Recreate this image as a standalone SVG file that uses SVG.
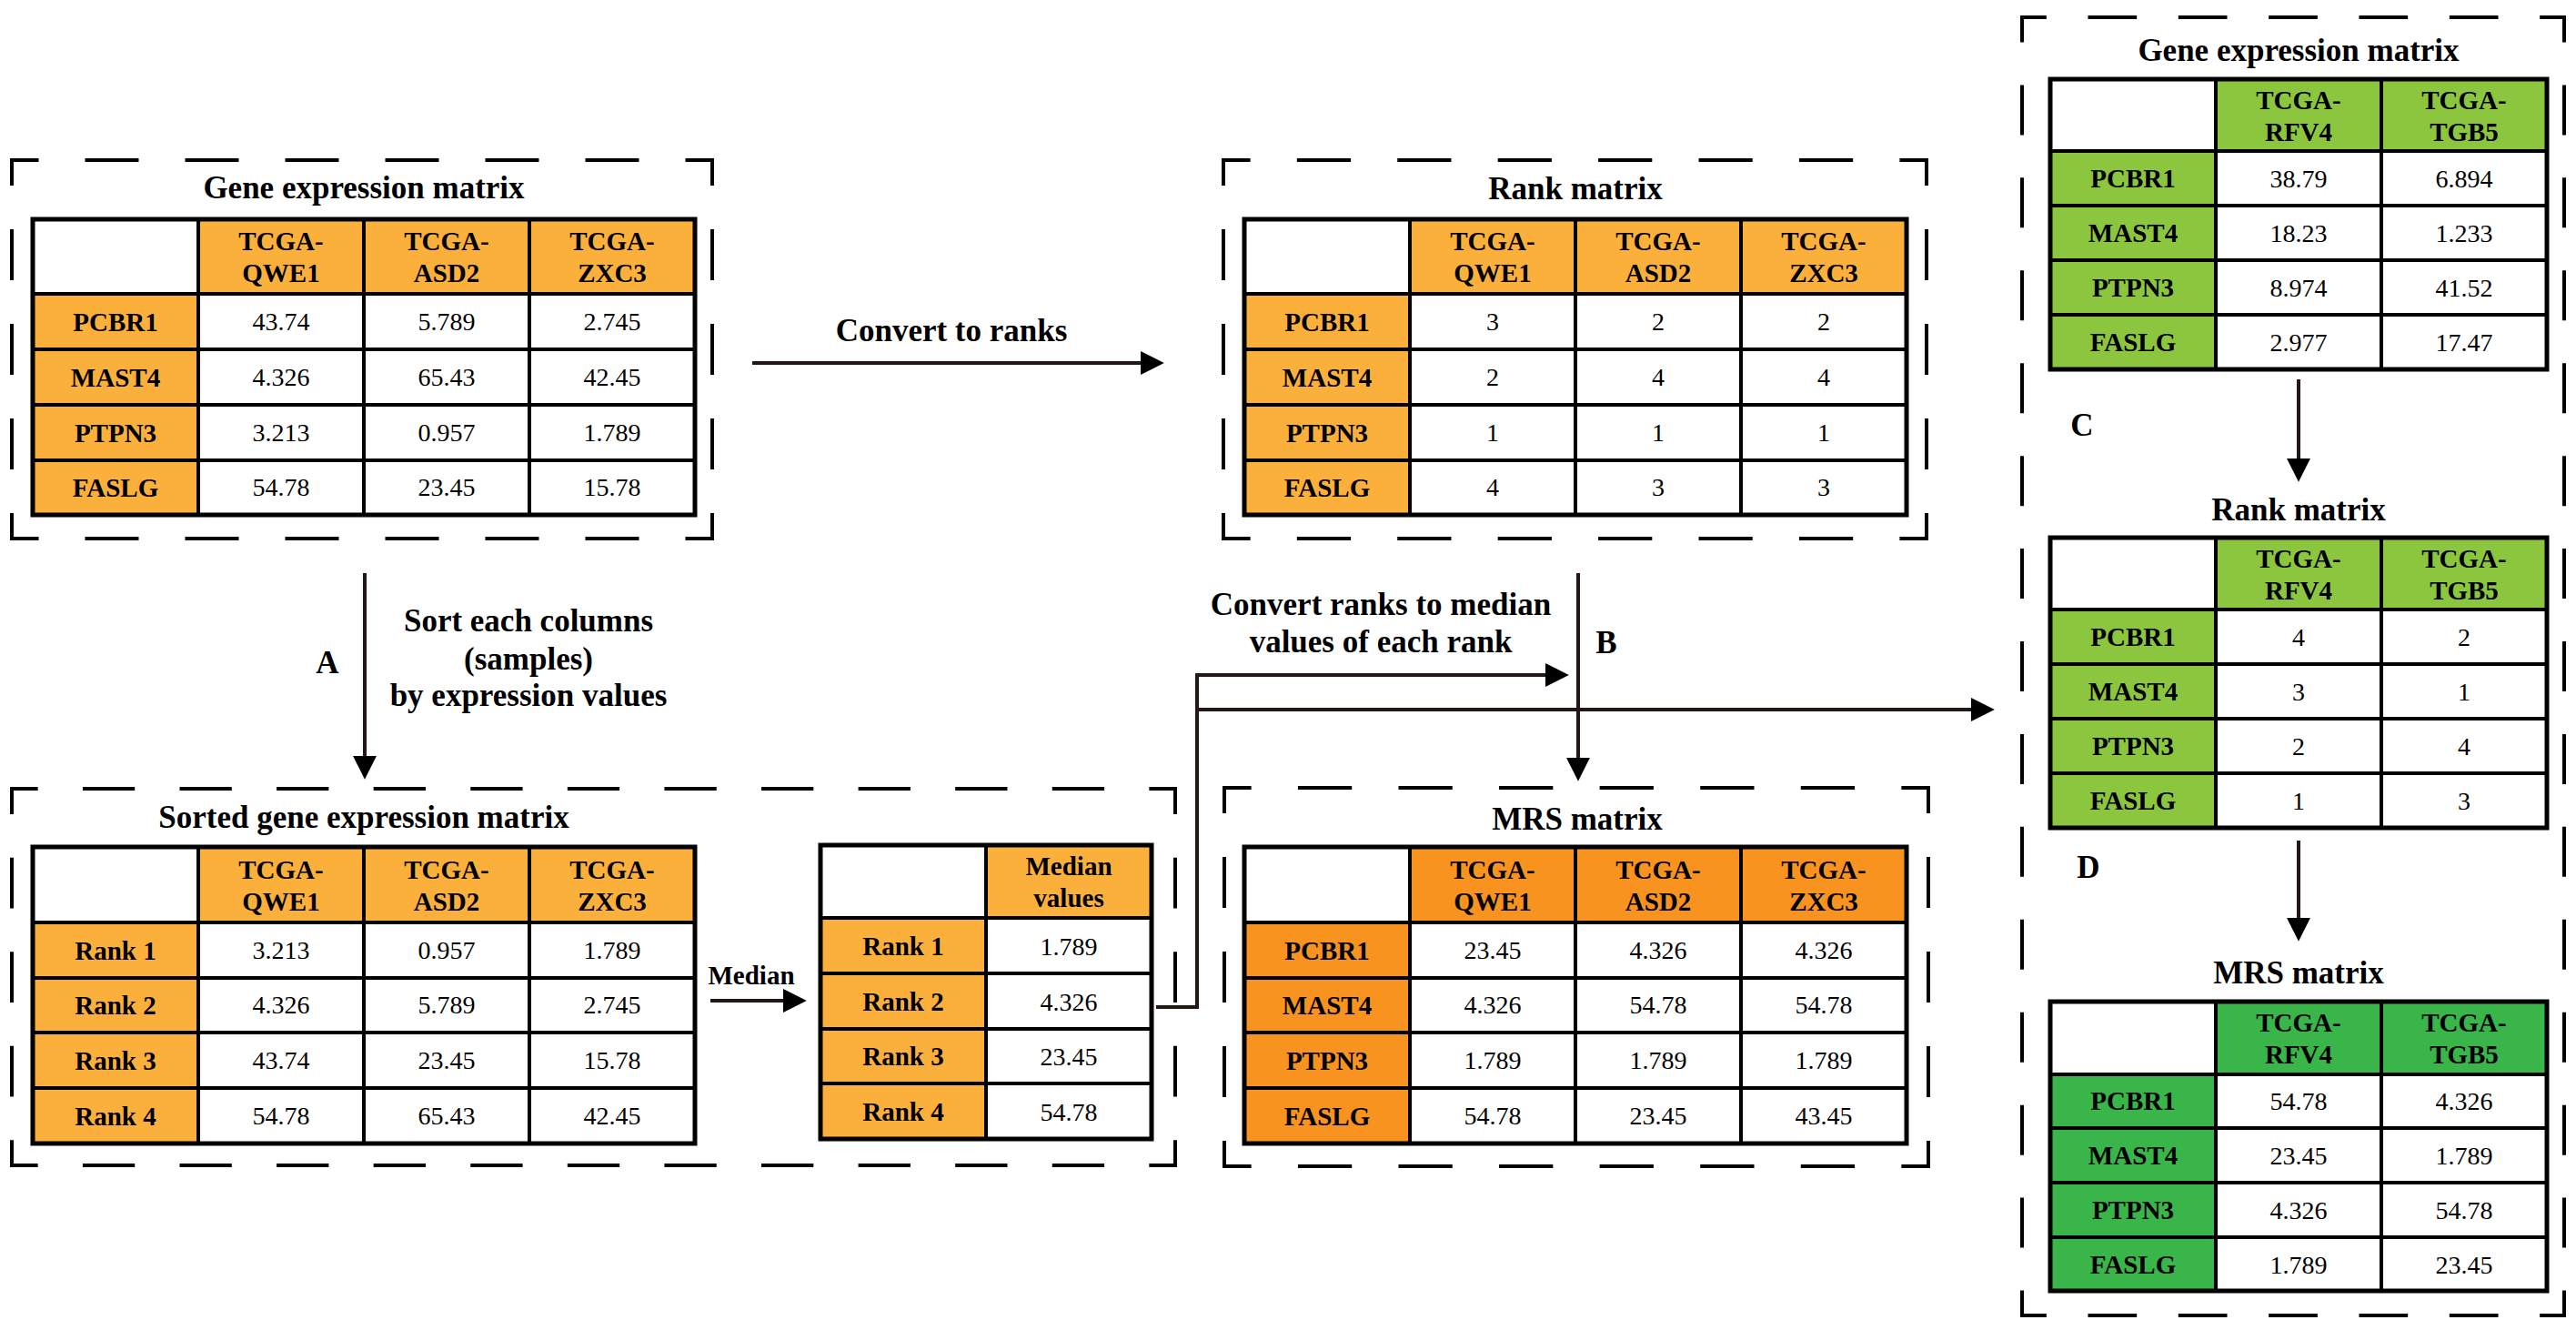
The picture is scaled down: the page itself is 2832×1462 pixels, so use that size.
<svg xmlns="http://www.w3.org/2000/svg" width="2832" height="1462" viewBox="0 0 2832 1462">
<defs>
<style>
text{font-family:"Liberation Serif","Times New Roman",serif;fill:#000;text-anchor:middle}
.t{font-size:35px;font-weight:bold}
.h{font-size:29px;font-weight:bold}
.n{font-size:28px}
.lb{font-size:35px;font-weight:bold}
.dash{fill:none;stroke:#000;stroke-width:4;stroke-dasharray:50 50;stroke-dashoffset:25;stroke-linecap:square}
.grid{fill:none;stroke:#000;stroke-width:4}
.outer{fill:none;stroke:#000;stroke-width:5}
.o1{fill:#FBB03B}
.o2{fill:#F7931E}
.g1{fill:#8CC63F}
.g2{fill:#39B54A}
.conn{fill:none;stroke:#231815;stroke-width:4}
</style>
<marker id="ah" markerUnits="userSpaceOnUse" markerWidth="26" markerHeight="26" viewBox="0 0 24 24" refX="14" refY="12" orient="auto"><path d="M0,0 L24,12 L0,24 z" fill="#000"/></marker>
</defs>
<rect width="2832" height="1462" fill="#fff"/>

<g id="gene-matrix">
<path class="dash" d="M13 176 H783" pathLength="700"/>
<path class="dash" d="M13 592 H783" pathLength="700"/>
<path class="dash" d="M13 176 V592" pathLength="400"/>
<path class="dash" d="M783 176 V592" pathLength="400"/>
<text class="t" x="400" y="218">Gene expression matrix</text>
<rect class="o1" x="218" y="241" width="546" height="82"/>
<rect class="o1" x="36" y="323" width="182" height="243"/>
<path class="grid" d="M218 241V566M400 241V566M582 241V566M36 323H764M36 384H764M36 445H764M36 506H764"/>
<rect class="outer" x="36" y="241" width="728" height="325"/>
<text class="h" x="309" y="275">TCGA-</text><text class="h" x="309" y="310">QWE1</text>
<text class="h" x="491" y="275">TCGA-</text><text class="h" x="491" y="310">ASD2</text>
<text class="h" x="673" y="275">TCGA-</text><text class="h" x="673" y="310">ZXC3</text>
<text class="h" x="127" y="364">PCBR1</text><text class="n" x="309" y="363">43.74</text><text class="n" x="491" y="363">5.789</text><text class="n" x="673" y="363">2.745</text>
<text class="h" x="127" y="425">MAST4</text><text class="n" x="309" y="424">4.326</text><text class="n" x="491" y="424">65.43</text><text class="n" x="673" y="424">42.45</text>
<text class="h" x="127" y="486">PTPN3</text><text class="n" x="309" y="485">3.213</text><text class="n" x="491" y="485">0.957</text><text class="n" x="673" y="485">1.789</text>
<text class="h" x="127" y="546">FASLG</text><text class="n" x="309" y="545">54.78</text><text class="n" x="491" y="545">23.45</text><text class="n" x="673" y="545">15.78</text>
</g>

<g id="rank-matrix">
<path class="dash" d="M1345 176 H2118" pathLength="700"/>
<path class="dash" d="M1345 592 H2118" pathLength="700"/>
<path class="dash" d="M1345 176 V592" pathLength="400"/>
<path class="dash" d="M2118 176 V592" pathLength="400"/>
<text class="t" x="1732" y="219">Rank matrix</text>
<rect class="o1" x="1550" y="241" width="546" height="82"/>
<rect class="o1" x="1368" y="323" width="182" height="243"/>
<path class="grid" d="M1550 241V566M1732 241V566M1914 241V566M1368 323H2096M1368 384H2096M1368 445H2096M1368 506H2096"/>
<rect class="outer" x="1368" y="241" width="728" height="325"/>
<text class="h" x="1641" y="275">TCGA-</text><text class="h" x="1641" y="310">QWE1</text>
<text class="h" x="1823" y="275">TCGA-</text><text class="h" x="1823" y="310">ASD2</text>
<text class="h" x="2005" y="275">TCGA-</text><text class="h" x="2005" y="310">ZXC3</text>
<text class="h" x="1459" y="364">PCBR1</text><text class="n" x="1641" y="363">3</text><text class="n" x="1823" y="363">2</text><text class="n" x="2005" y="363">2</text>
<text class="h" x="1459" y="425">MAST4</text><text class="n" x="1641" y="424">2</text><text class="n" x="1823" y="424">4</text><text class="n" x="2005" y="424">4</text>
<text class="h" x="1459" y="486">PTPN3</text><text class="n" x="1641" y="485">1</text><text class="n" x="1823" y="485">1</text><text class="n" x="2005" y="485">1</text>
<text class="h" x="1459" y="546">FASLG</text><text class="n" x="1641" y="545">4</text><text class="n" x="1823" y="545">3</text><text class="n" x="2005" y="545">3</text>
</g>

<g id="sorted-matrix">
<path class="dash" d="M13 867 H1292" pathLength="1200"/>
<path class="dash" d="M13 1281 H1292" pathLength="1200"/>
<path class="dash" d="M13 867 V1281" pathLength="400"/>
<path class="dash" d="M1292 867 V1281" pathLength="400"/>
<text class="t" x="400" y="910">Sorted gene expression matrix</text>
<rect class="o1" x="218" y="931" width="546" height="83"/>
<rect class="o1" x="36" y="1014" width="182" height="243"/>
<path class="grid" d="M218 931V1257M400 931V1257M582 931V1257M36 1014H764M36 1075H764M36 1135H764M36 1196H764"/>
<rect class="outer" x="36" y="931" width="728" height="326"/>
<text class="h" x="309" y="966">TCGA-</text><text class="h" x="309" y="1001">QWE1</text>
<text class="h" x="491" y="966">TCGA-</text><text class="h" x="491" y="1001">ASD2</text>
<text class="h" x="673" y="966">TCGA-</text><text class="h" x="673" y="1001">ZXC3</text>
<text class="h" x="127" y="1055">Rank 1</text><text class="n" x="309" y="1054">3.213</text><text class="n" x="491" y="1054">0.957</text><text class="n" x="673" y="1054">1.789</text>
<text class="h" x="127" y="1115">Rank 2</text><text class="n" x="309" y="1114">4.326</text><text class="n" x="491" y="1114">5.789</text><text class="n" x="673" y="1114">2.745</text>
<text class="h" x="127" y="1176">Rank 3</text><text class="n" x="309" y="1175">43.74</text><text class="n" x="491" y="1175">23.45</text><text class="n" x="673" y="1175">15.78</text>
<text class="h" x="127" y="1237">Rank 4</text><text class="n" x="309" y="1236">54.78</text><text class="n" x="491" y="1236">65.43</text><text class="n" x="673" y="1236">42.45</text>
</g>

<g id="median-table">
<rect class="o1" x="1084" y="929" width="182" height="80"/>
<rect class="o1" x="902" y="1009" width="182" height="243"/>
<path class="grid" d="M1084 929V1252M902 1009H1266M902 1070H1266M902 1131H1266M902 1191H1266"/>
<rect class="outer" x="902" y="929" width="364" height="323"/>
<text class="h" x="1175" y="962">Median</text><text class="h" x="1175" y="997">values</text>
<text class="h" x="993" y="1050">Rank 1</text><text class="n" x="1175" y="1050">1.789</text>
<text class="h" x="993" y="1111">Rank 2</text><text class="n" x="1175" y="1111">4.326</text>
<text class="h" x="993" y="1171">Rank 3</text><text class="n" x="1175" y="1171">23.45</text>
<text class="h" x="993" y="1232">Rank 4</text><text class="n" x="1175" y="1232">54.78</text>
</g>

<g id="mrs-matrix">
<path class="dash" d="M1346 866 H2120" pathLength="700"/>
<path class="dash" d="M1346 1282 H2120" pathLength="700"/>
<path class="dash" d="M1346 866 V1282" pathLength="400"/>
<path class="dash" d="M2120 866 V1282" pathLength="400"/>
<text class="t" x="1734" y="912">MRS matrix</text>
<rect class="o2" x="1550" y="931" width="546" height="83"/>
<rect class="o2" x="1368" y="1014" width="182" height="243"/>
<path class="grid" d="M1550 931V1257M1732 931V1257M1914 931V1257M1368 1014H2096M1368 1075H2096M1368 1135H2096M1368 1196H2096"/>
<rect class="outer" x="1368" y="931" width="728" height="326"/>
<text class="h" x="1641" y="966">TCGA-</text><text class="h" x="1641" y="1001">QWE1</text>
<text class="h" x="1823" y="966">TCGA-</text><text class="h" x="1823" y="1001">ASD2</text>
<text class="h" x="2005" y="966">TCGA-</text><text class="h" x="2005" y="1001">ZXC3</text>
<text class="h" x="1459" y="1055">PCBR1</text><text class="n" x="1641" y="1054">23.45</text><text class="n" x="1823" y="1054">4.326</text><text class="n" x="2005" y="1054">4.326</text>
<text class="h" x="1459" y="1115">MAST4</text><text class="n" x="1641" y="1114">4.326</text><text class="n" x="1823" y="1114">54.78</text><text class="n" x="2005" y="1114">54.78</text>
<text class="h" x="1459" y="1176">PTPN3</text><text class="n" x="1641" y="1175">1.789</text><text class="n" x="1823" y="1175">1.789</text><text class="n" x="2005" y="1175">1.789</text>
<text class="h" x="1459" y="1237">FASLG</text><text class="n" x="1641" y="1236">54.78</text><text class="n" x="1823" y="1236">23.45</text><text class="n" x="2005" y="1236">43.45</text>
</g>

<g id="right-panel">
<path class="dash" d="M2223 19 H2819" pathLength="600"/>
<path class="dash" d="M2223 1446 H2819" pathLength="600"/>
<path class="dash" d="M2223 19 V1446" pathLength="1400"/>
<path class="dash" d="M2819 19 V1446" pathLength="1400"/>
</g>

<g id="gene-matrix-2">
<text class="t" x="2527" y="67">Gene expression matrix</text>
<rect class="g1" x="2436" y="87" width="364" height="79"/>
<rect class="g1" x="2254" y="166" width="182" height="240"/>
<path class="grid" d="M2436 87V406M2618 87V406M2254 166H2800M2254 226H2800M2254 286H2800M2254 346H2800"/>
<rect class="outer" x="2254" y="87" width="546" height="319"/>
<text class="h" x="2527" y="120">TCGA-</text><text class="h" x="2527" y="155">RFV4</text>
<text class="h" x="2709" y="120">TCGA-</text><text class="h" x="2709" y="155">TGB5</text>
<text class="h" x="2345" y="206">PCBR1</text><text class="n" x="2527" y="206">38.79</text><text class="n" x="2709" y="206">6.894</text>
<text class="h" x="2345" y="266">MAST4</text><text class="n" x="2527" y="266">18.23</text><text class="n" x="2709" y="266">1.233</text>
<text class="h" x="2345" y="326">PTPN3</text><text class="n" x="2527" y="326">8.974</text><text class="n" x="2709" y="326">41.52</text>
<text class="h" x="2345" y="386">FASLG</text><text class="n" x="2527" y="386">2.977</text><text class="n" x="2709" y="386">17.47</text>
</g>

<g id="rank-matrix-2">
<text class="t" x="2527" y="572">Rank matrix</text>
<rect class="g1" x="2436" y="591" width="364" height="79"/>
<rect class="g1" x="2254" y="670" width="182" height="240"/>
<path class="grid" d="M2436 591V910M2618 591V910M2254 670H2800M2254 730H2800M2254 790H2800M2254 850H2800"/>
<rect class="outer" x="2254" y="591" width="546" height="319"/>
<text class="h" x="2527" y="624">TCGA-</text><text class="h" x="2527" y="659">RFV4</text>
<text class="h" x="2709" y="624">TCGA-</text><text class="h" x="2709" y="659">TGB5</text>
<text class="h" x="2345" y="710">PCBR1</text><text class="n" x="2527" y="710">4</text><text class="n" x="2709" y="710">2</text>
<text class="h" x="2345" y="770">MAST4</text><text class="n" x="2527" y="770">3</text><text class="n" x="2709" y="770">1</text>
<text class="h" x="2345" y="830">PTPN3</text><text class="n" x="2527" y="830">2</text><text class="n" x="2709" y="830">4</text>
<text class="h" x="2345" y="890">FASLG</text><text class="n" x="2527" y="890">1</text><text class="n" x="2709" y="890">3</text>
</g>

<g id="mrs-matrix-2">
<text class="t" x="2527" y="1081">MRS matrix</text>
<rect class="g2" x="2436" y="1101" width="364" height="80"/>
<rect class="g2" x="2254" y="1181" width="182" height="238"/>
<path class="grid" d="M2436 1101V1419M2618 1101V1419M2254 1181H2800M2254 1240H2800M2254 1300H2800M2254 1360H2800"/>
<rect class="outer" x="2254" y="1101" width="546" height="318"/>
<text class="h" x="2527" y="1134">TCGA-</text><text class="h" x="2527" y="1169">RFV4</text>
<text class="h" x="2709" y="1134">TCGA-</text><text class="h" x="2709" y="1169">TGB5</text>
<text class="h" x="2345" y="1220">PCBR1</text><text class="n" x="2527" y="1220">54.78</text><text class="n" x="2709" y="1220">4.326</text>
<text class="h" x="2345" y="1280">MAST4</text><text class="n" x="2527" y="1280">23.45</text><text class="n" x="2709" y="1280">1.789</text>
<text class="h" x="2345" y="1340">PTPN3</text><text class="n" x="2527" y="1340">4.326</text><text class="n" x="2709" y="1340">54.78</text>
<text class="h" x="2345" y="1400">FASLG</text><text class="n" x="2527" y="1400">1.789</text><text class="n" x="2709" y="1400">23.45</text>
</g>

<g id="connectors">
<path class="conn" d="M827 399 H1269" marker-end="url(#ah)"/>
<path class="conn" d="M401 630 V846" marker-end="url(#ah)"/>
<path class="conn" d="M781 1100 H876" marker-end="url(#ah)"/>
<path class="conn" d="M1271 1107 H1316 V742 H1714" marker-end="url(#ah)"/>
<path class="conn" d="M1316 780 H2182" marker-end="url(#ah)"/>
<path class="conn" d="M1735 630 V848" marker-end="url(#ah)"/>
<path class="conn" d="M2527 417 V519" marker-end="url(#ah)"/>
<path class="conn" d="M2527 924 V1024" marker-end="url(#ah)"/>
<text class="lb" x="1046" y="375">Convert to ranks</text>
<text class="lb" x="360" y="740">A</text>
<text class="lb" x="581" y="694">Sort each columns</text>
<text class="lb" x="581" y="736">(samples)</text>
<text class="lb" x="581" y="776">by expression values</text>
<text class="h" x="826" y="1082">Median</text>
<text class="lb" x="1518" y="676">Convert ranks to median</text>
<text class="lb" x="1518" y="717">values of each rank</text>
<text class="lb" x="1766" y="718">B</text>
<text class="lb" x="2289" y="479">C</text>
<text class="lb" x="2296" y="965">D</text>
</g>
</svg>
